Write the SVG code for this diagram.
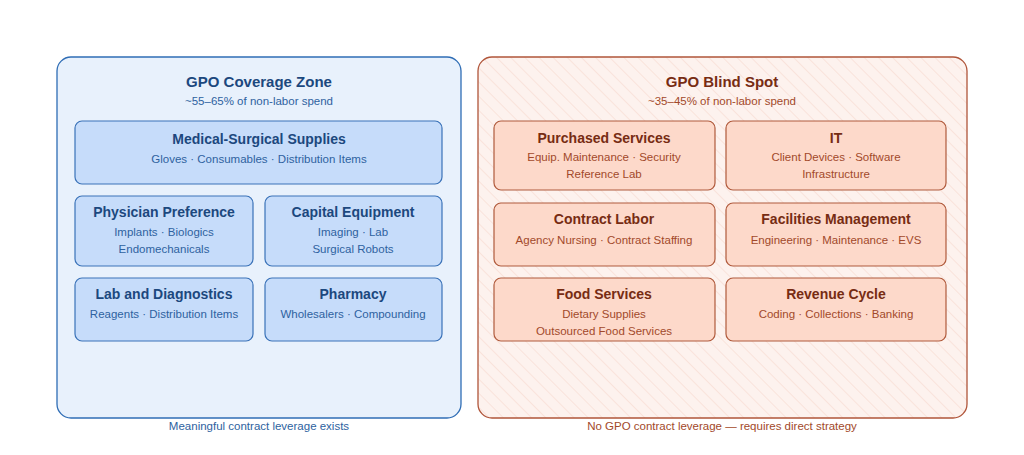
<svg xmlns="http://www.w3.org/2000/svg" width="1024" height="455" viewBox="0 0 1024 455">
<defs>
<pattern id="hatch" width="10" height="10" patternUnits="userSpaceOnUse" patternTransform="rotate(-45)">
<line x1="0" y1="0" x2="0" y2="10" stroke="#f6d9cf" stroke-width="1.2"/>
</pattern>
<style>
text{font-family:"Liberation Sans",Arial,sans-serif;text-anchor:middle}
.bz{fill:#c6dcfa;stroke:#3a72b8;stroke-width:1.2}
.bt{font-size:14px;font-weight:bold;fill:#1c487e}
.bs{font-size:11.5px;fill:#2e62a0}
.rz{fill:#fdd9ca;stroke:#b05a3c;stroke-width:1.2}
.rt{font-size:14px;font-weight:bold;fill:#772c13}
.rs{font-size:11.5px;fill:#a2492a}
</style>
</defs>
<rect width="1024" height="455" fill="#fff"/>
<g id="coverage">
<rect x="57" y="57" width="404" height="361" rx="14" fill="#e8f1fc" stroke="#2f6db5" stroke-width="1.3"/>
<text x="259" y="87" font-size="15" font-weight="bold" fill="#1c487e">GPO Coverage Zone</text>
<text x="259" y="105" font-size="11.5" fill="#2e62a0">~55–65% of non-labor spend</text>
<text x="259" y="430" font-size="11.5" fill="#2e62a0">Meaningful contract leverage exists</text>
</g>
<g id="medsurg"><rect class="bz" x="75" y="121" width="367" height="63" rx="7"/><text class="bt" x="259" y="144">Medical-Surgical Supplies</text><text class="bs" x="259" y="163">Gloves · Consumables · Distribution Items</text></g>
<g id="physician"><rect class="bz" x="75" y="196" width="178" height="70" rx="7"/><text class="bt" x="164" y="217">Physician Preference</text><text class="bs" x="164" y="236">Implants · Biologics</text><text class="bs" x="164" y="253">Endomechanicals</text></g>
<g id="capital"><rect class="bz" x="265" y="196" width="177" height="70" rx="7"/><text class="bt" x="353" y="217">Capital Equipment</text><text class="bs" x="353" y="236">Imaging · Lab</text><text class="bs" x="353" y="253">Surgical Robots</text></g>
<g id="lab"><rect class="bz" x="75" y="278" width="178" height="63" rx="7"/><text class="bt" x="164" y="299">Lab and Diagnostics</text><text class="bs" x="164" y="318">Reagents · Distribution Items</text></g>
<g id="pharmacy"><rect class="bz" x="265" y="278" width="177" height="63" rx="7"/><text class="bt" x="353" y="299">Pharmacy</text><text class="bs" x="353" y="318">Wholesalers · Compounding</text></g>
<g id="blindspot">
<rect x="478" y="57" width="489" height="361" rx="14" fill="#fdf2ee"/>
<rect x="478" y="57" width="489" height="361" rx="14" fill="url(#hatch)" stroke="#b0553a" stroke-width="1.3"/>
<text x="722" y="87" font-size="15" font-weight="bold" fill="#772c13">GPO Blind Spot</text>
<text x="722" y="105" font-size="11.5" fill="#a2492a">~35–45% of non-labor spend</text>
<text x="722" y="430" font-size="11.5" fill="#a2492a">No GPO contract leverage — requires direct strategy</text>
</g>
<g id="purchased"><rect class="rz" x="494" y="121" width="221" height="69" rx="7"/><text class="rt" x="604" y="143">Purchased Services</text><text class="rs" x="604" y="161">Equip. Maintenance · Security</text><text class="rs" x="604" y="178">Reference Lab</text></g>
<g id="it"><rect class="rz" x="726" y="121" width="220" height="69" rx="7"/><text class="rt" x="836" y="143">IT</text><text class="rs" x="836" y="161">Client Devices · Software</text><text class="rs" x="836" y="178">Infrastructure</text></g>
<g id="contractlabor"><rect class="rz" x="494" y="203" width="221" height="63" rx="7"/><text class="rt" x="604" y="224">Contract Labor</text><text class="rs" x="604" y="244">Agency Nursing · Contract Staffing</text></g>
<g id="facilities"><rect class="rz" x="726" y="203" width="220" height="63" rx="7"/><text class="rt" x="836" y="224">Facilities Management</text><text class="rs" x="836" y="244">Engineering · Maintenance · EVS</text></g>
<g id="food"><rect class="rz" x="494" y="278" width="221" height="63" rx="7"/><text class="rt" x="604" y="299">Food Services</text><text class="rs" x="604" y="318">Dietary Supplies</text><text class="rs" x="604" y="335">Outsourced Food Services</text></g>
<g id="revenue"><rect class="rz" x="726" y="278" width="220" height="63" rx="7"/><text class="rt" x="836" y="299">Revenue Cycle</text><text class="rs" x="836" y="318">Coding · Collections · Banking</text></g>
<g id="connectors"/>
</svg>
